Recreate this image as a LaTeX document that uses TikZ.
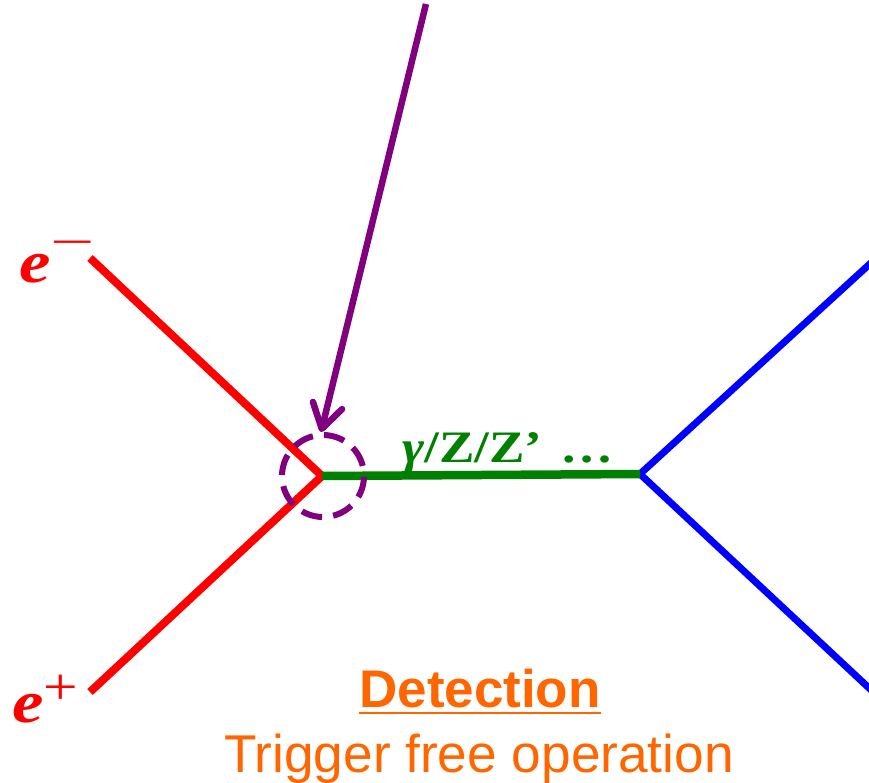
\documentclass[tikz,border=0pt]{standalone}
\usepackage{fontspec}
\setmainfont{Liberation Serif}
\newfontfamily\wideserif[FakeStretch=1.18]{Liberation Serif}
\newfontfamily\arialfont{Liberation Sans}
\usetikzlibrary{arrows.meta}
\definecolor{ered}{RGB}{255,0,0}
\definecolor{pgreen}{RGB}{0,128,0}
\definecolor{pblue}{RGB}{0,0,255}
\definecolor{ppurple}{RGB}{128,0,128}
\definecolor{porange}{RGB}{255,102,0}
\tikzset{
  fermion/.style={ered, line width=8pt},
  boson/.style={pgreen, line width=8.5pt},
  outline/.style={pblue, line width=7pt},
  probe/.style={ppurple, line width=6.5pt},
  lbl/.style={inner sep=0pt, anchor=base west},
}
\begin{document}
\begin{tikzpicture}[x=1pt,y=-1pt]
\useasboundingbox (0,0) rectangle (869,783);
\clip (0,0) rectangle (869,783);
\coordinate (v1) at (322,476);
\coordinate (v2) at (640,474);
\coordinate (em) at (90,258);
\coordinate (ep) at (90,692);
\coordinate (f1) at (884,251);
\coordinate (f2) at (884,702);
\coordinate (src) at (426,4);
\coordinate (tip) at (321,432);
% fermion lines
\draw[fermion] (em) -- (v1) -- (ep);
% outgoing
\draw[outline] (f1) -- (v2) -- (f2);
% propagator
\draw[boson] (v1) -- (v2);
% dashed circle
\node[probe, line width=6pt, draw, dash pattern=on 21pt off 11.2pt, dash phase=22pt, circle, minimum size=82pt, inner sep=0pt] (ring) at (323,476) {};
% arrow
\draw[probe, -{Straight Barb[length=24pt,width=30pt,round]}] (src) -- (tip);
% labels
\node[lbl, text=ered] (elab) at (19,283) {\wideserif\fontsize{60}{60}\selectfont\bfseries\itshape e\upshape\mdseries\fontsize{46}{46}\selectfont\raisebox{25pt}{\scalebox{1.45}[1]{−}}};
\node[lbl, text=ered] (plab) at (12,722) {\wideserif\fontsize{60}{60}\selectfont\bfseries\itshape e\upshape\mdseries\fontsize{52}{52}\selectfont\raisebox{18pt}{+}};
\node[lbl, text=pgreen] (glab) at (402,462) {\wideserif\fontsize{45}{45}\selectfont\bfseries{\itshape γ}/Z/Z’\hspace{18pt}…};
\node[inner sep=0pt, anchor=base, text=porange] (det) at (480,707) {\arialfont\fontsize{53}{53}\selectfont\bfseries Detection};
\draw[porange, line width=2.7pt] ([yshift=-6pt]det.base west) -- ([yshift=-6pt]det.base east);
\node[inner sep=0pt, anchor=base, text=porange] (trig) at (479,772) {\arialfont\fontsize{53.2}{53.2}\selectfont Trigger free operation};
\end{tikzpicture}
\end{document}
